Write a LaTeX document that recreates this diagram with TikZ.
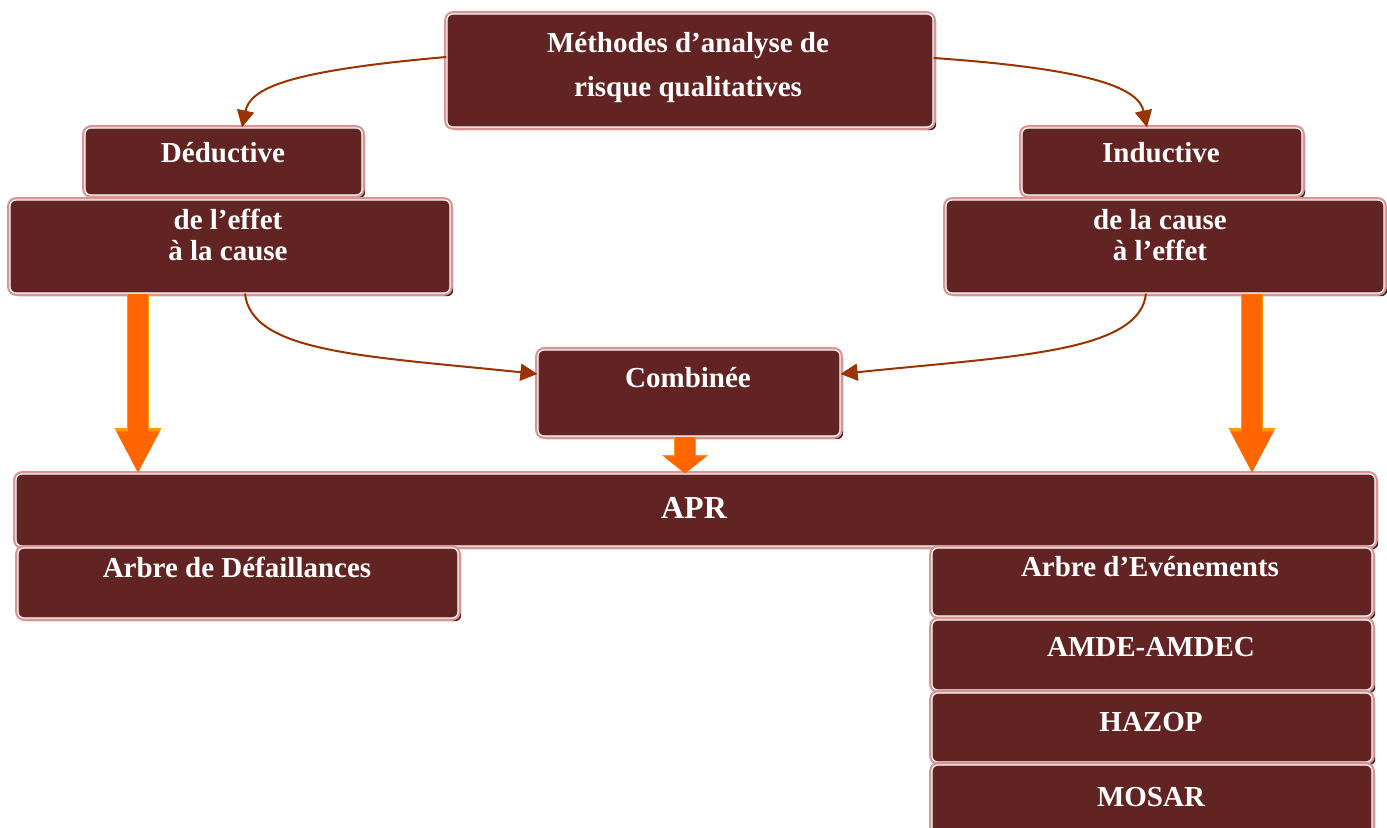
\documentclass[tikz,border=0pt]{standalone}
\usepackage{fontspec}
\setmainfont{Liberation Serif}
\usetikzlibrary{arrows.meta,shadows}

\definecolor{boxfill}{RGB}{98,35,35}
\definecolor{boxshade}{RGB}{70,22,22}
\definecolor{boxrim}{RGB}{217,149,148}
\definecolor{linkbrown}{RGB}{153,51,0}
\definecolor{bigorange}{RGB}{255,102,0}
\definecolor{bigrim}{RGB}{255,153,0}

\tikzset{
  box/.style={fill=boxfill, draw=white, line width=0.6pt, rounded corners=3pt, inner sep=0pt,
    drop shadow={shadow xshift=1.6pt, shadow yshift=-1.6pt, fill=boxshade, opacity=1},
    preaction={draw=boxrim, line width=2.8pt}},
  txt/.style={text=white, align=center, inner sep=0pt,
    font=\bfseries\fontsize{14.5}{15.5}\selectfont},
  link/.style={draw=linkbrown, line width=1pt, -{Triangle[length=8.5pt,width=8.5pt]}},
  bigarrow/.style 2 args={draw=bigorange, line width=10pt,
    -{Triangle[length=0pt #1,width=0pt #2]},
    preaction={draw=bigrim, line width=10.8pt, -{Triangle[length=0pt #1,width=0pt #2]}}}
}

\begin{document}
\begin{tikzpicture}[x=0.5pt,y=0.5pt]
  \useasboundingbox[fill=white] (0,0) rectangle (1387,-828);

  % boxes
  \node[box, minimum width=243pt, minimum height=56.5pt] (meth) at (690,-70.5) {};
  \node[box, minimum width=138.5pt, minimum height=33.5pt] (ded) at (223.5,-161.5) {};
  \node[box, minimum width=220pt, minimum height=46.5pt] (effet) at (230,-246.5) {};
  \node[box, minimum width=140pt, minimum height=33.5pt] (ind) at (1162,-161.5) {};
  \node[box, minimum width=219pt, minimum height=46.5pt] (cause) at (1165,-246.5) {};
  \node[box, minimum width=151pt, minimum height=43pt] (comb) at (689,-393) {};
  \node[box, minimum width=679.5pt, minimum height=36pt] (apr) at (695.5,-510) {};
  \node[box, minimum width=220pt, minimum height=35pt] (adf) at (238,-583) {};
  \node[box, minimum width=220pt, minimum height=34pt] (ade) at (1152,-582) {};
  \node[box, minimum width=220pt, minimum height=35pt] (amdec) at (1152,-655) {};
  \node[box, minimum width=220pt, minimum height=34.5pt] (hazop) at (1152,-727.5) {};
  \node[box, minimum width=220pt, minimum height=35pt] (mosar) at (1152,-800) {};

  % texts
  \node[txt, font=\bfseries\fontsize{14.5}{22}\selectfont] (meth-t) at (688,-68)
    {Méthodes d’analyse de\\risque qualitatives};
  \node[txt] (ded-t) at (223,-153) {Déductive};
  \node[txt] (effet-t) at (228,-235) {de l’effet\\à la cause};
  \node[txt] (ind-t) at (1161,-153) {Inductive};
  \node[txt] (cause-t) at (1160,-235) {de la cause\\à l’effet};
  \node[txt] (comb-t) at (688,-378) {Combinée};
  \node[txt, font=\bfseries\fontsize{16}{18}\selectfont] (apr-t) at (694,-508) {APR};
  \node[txt] (adf-t) at (237,-567) {Arbre de Défaillances};
  \node[txt] (ade-t) at (1150,-567) {Arbre d’Evénements};
  \node[txt] (amdec-t) at (1151,-647) {AMDE-AMDEC};
  \node[txt] (hazop-t) at (1151,-722) {HAZOP};
  \node[txt] (mosar-t) at (1151,-797) {MOSAR};

  % thin links
  \draw[link] (meth.west |- 0,-57) to[out=185,in=78,out distance=80pt,in distance=20pt] (ded.north -| 242,0);
  \draw[link] (meth.east |- 0,-58) to[out=-4,in=102,out distance=80pt,in distance=20pt] (ind.north -| 1147,0);
  \draw[link] (effet.south -| 245,0) to[out=-84,in=174,out distance=30pt,in distance=85pt] (comb.west |- 0,-374);
  \draw[link] (cause.south -| 1146,0) to[out=-96,in=6,out distance=30pt,in distance=85pt] (comb.east |- 0,-374);

  % block arrows
  \draw[bigarrow={2.1}{2}] (effet.south -| 138,0) -- (apr.north -| 138,0);
  \draw[bigarrow={2.1}{2}] (cause.south -| 1252,0) -- (apr.north -| 1252,0);
  \draw[bigarrow={0.85}{2.1}] (comb.south -| 685,0) -- (apr.north -| 685,0);
\end{tikzpicture}
\end{document}
